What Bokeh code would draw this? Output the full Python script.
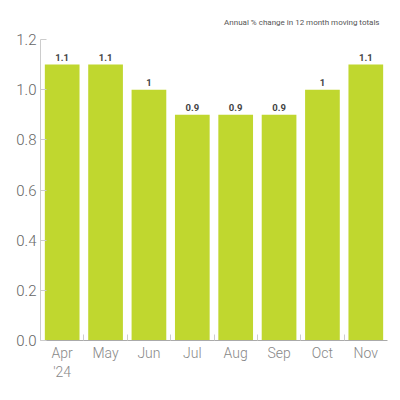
from bokeh.plotting import figure
from bokeh.models import ColumnDataSource, FixedTicker, Range1d, LabelSet, Title
from bokeh.embed import file_html
from bokeh.resources import INLINE
from bokeh.core.properties import value

months = ["Apr", "May", "Jun", "Jul", "Aug", "Sep", "Oct", "Nov"]
month_labels = ["Apr\n'24", "May", "Jun", "Jul", "Aug", "Sep", "Oct", "Nov"]
values = [1.1, 1.1, 1.0, 0.9, 0.9, 0.9, 1.0, 1.1]
value_text = ["1.1", "1.1", "1", "0.9", "0.9", "0.9", "1", "1.1"]
y_ticks = [0.0, 0.2, 0.4, 0.6, 0.8, 1.0, 1.2]
title_text = "Annual % change in 12 month moving totals"

LIGHT = "'Roboto Light', 'Lato Light', 'Liberation Sans', sans-serif"

xs = [i + 0.5 for i in range(len(months))]
src = ColumnDataSource(dict(x=xs, top=values, txt=value_text))

p = figure(width=392, height=392, output_backend="svg", toolbar_location=None,
           x_range=Range1d(0, len(months)), y_range=Range1d(0, 1.2),
           min_border_left=40, min_border_right=5, min_border_top=39, min_border_bottom=52)

p.vbar(x="x", top="top", width=0.8, bottom=0, source=src, color="#c0d72f", line_color=None)

labels = LabelSet(x="x", y="top", text="txt", source=src, text_align="center",
                  text_baseline="alphabetic", y_offset=4, text_font_size="9.5px",
                  text_font_style="bold", text_color="#444444",
                  text_font=value("Roboto"))
p.add_layout(labels)

t = Title(text=title_text, align="right", text_font_size="8px", text_font_style="normal",
          text_color="#555555", text_font="Roboto", offset=8, standoff=26)
p.add_layout(t, "above")

p.xgrid.visible = False
p.ygrid.visible = False
p.outline_line_color = None

xa = p.xaxis[0]
xa.ticker = FixedTicker(ticks=xs, minor_ticks=[float(i) for i in range(1, len(months))])
xa.major_label_overrides = {x: lab for x, lab in zip(xs, month_labels)}
xa.major_tick_in = 0
xa.major_tick_out = 0
xa.minor_tick_in = 6
xa.minor_tick_out = 0
xa.minor_tick_line_color = "#cccccc"
xa.axis_line_color = "#aaaaaa"
xa.major_label_text_font_size = "14px"
xa.major_label_text_color = "#888888"
xa.major_label_text_font = LIGHT
xa.major_label_standoff = 4

ya = p.yaxis[0]
ya.ticker = FixedTicker(ticks=y_ticks)
ya.major_label_overrides = {v: f"{v:.1f}" for v in y_ticks}
ya.major_tick_in = 6
ya.major_tick_out = 0
ya.minor_tick_in = 0
ya.minor_tick_out = 0
ya.major_tick_line_color = "#cccccc"
ya.axis_line_color = "#cccccc"
ya.major_label_text_font_size = "15px"
ya.major_label_text_color = "#666666"
ya.major_label_text_font = LIGHT
ya.major_label_standoff = 4

open("out.html", "w").write(file_html(p, INLINE))
